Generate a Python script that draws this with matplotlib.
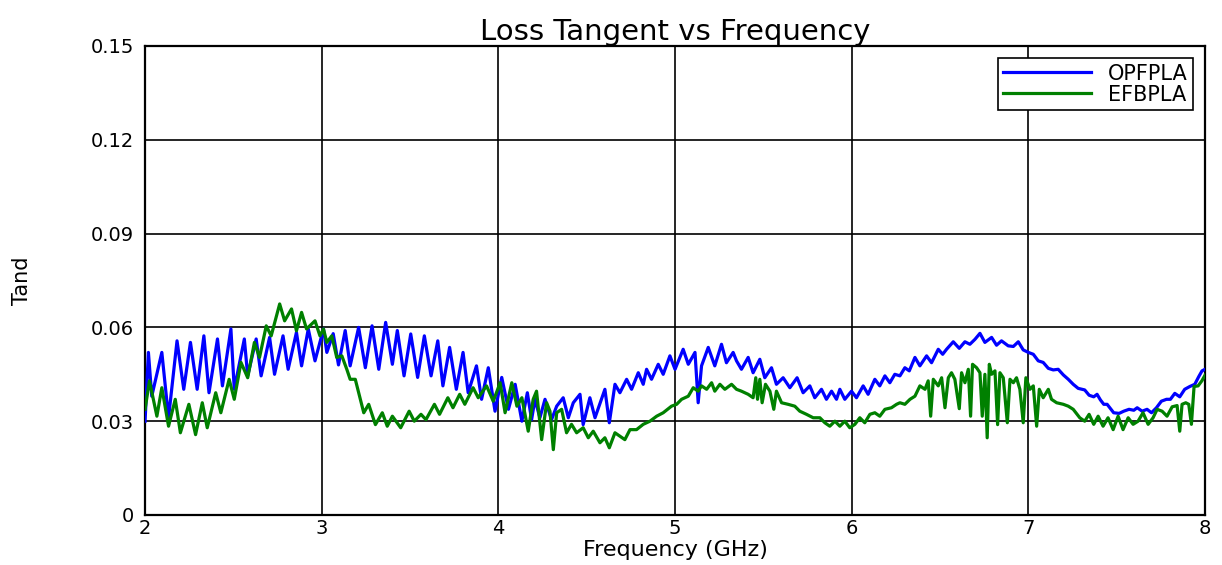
import matplotlib
matplotlib.use("Agg")
import matplotlib.pyplot as plt

# OPFPLA loss tangent (peaks and troughs)
opf_freq = [2.000, 2.019, 2.038, 2.095, 2.133, 2.181, 2.219, 2.257, 2.295, 2.333,
            2.362, 2.410, 2.438, 2.486, 2.505, 2.562, 2.581, 2.629, 2.657, 2.705,
            2.733, 2.781, 2.810, 2.857, 2.886, 2.924, 2.962, 3.010, 3.029, 3.065,
            3.095, 3.133, 3.161, 3.209, 3.247, 3.285, 3.323, 3.362, 3.400, 3.428,
            3.466, 3.504, 3.543, 3.581, 3.619, 3.657, 3.686, 3.724, 3.762, 3.800,
            3.829, 3.876, 3.905, 3.943, 3.981, 4.019, 4.057, 4.095, 4.133, 4.164,
            4.188, 4.207, 4.235, 4.264, 4.301, 4.330, 4.367, 4.396, 4.424, 4.462,
            4.480, 4.518, 4.547, 4.603, 4.628, 4.660, 4.688, 4.726, 4.754, 4.792,
            4.820, 4.839, 4.867, 4.905, 4.933, 4.971, 5.000, 5.046, 5.075, 5.113,
            5.131, 5.150, 5.188, 5.225, 5.263, 5.291, 5.329, 5.348, 5.376, 5.414,
            5.442, 5.480, 5.508, 5.546, 5.574, 5.612, 5.650, 5.691, 5.725, 5.763,
            5.791, 5.829, 5.857, 5.886, 5.914, 5.933, 5.961, 5.999, 6.027, 6.065,
            6.093, 6.131, 6.159, 6.188, 6.216, 6.244, 6.273, 6.301, 6.326, 6.358,
            6.386, 6.424, 6.452, 6.490, 6.515, 6.537, 6.575, 6.609, 6.641, 6.669,
            6.698, 6.726, 6.754, 6.792, 6.820, 6.848, 6.886, 6.915, 6.943, 6.971,
            7.000, 7.028, 7.056, 7.084, 7.113, 7.141, 7.169, 7.198, 7.226, 7.254,
            7.282, 7.319, 7.344, 7.370, 7.389, 7.408, 7.427, 7.446, 7.465, 7.483,
            7.514, 7.540, 7.570, 7.597, 7.616, 7.644, 7.672, 7.697, 7.725, 7.753,
            7.782, 7.804, 7.829, 7.857, 7.885, 7.914, 7.942, 7.965, 7.983, 8.000]
opf_tand = [0.0300, 0.0520, 0.0380, 0.0520, 0.0311, 0.0557, 0.0402, 0.0552, 0.0402, 0.0573,
            0.0391, 0.0563, 0.0413, 0.0595, 0.0402, 0.0563, 0.0445, 0.0563, 0.0445, 0.0568,
            0.0450, 0.0573, 0.0466, 0.0584, 0.0477, 0.0595, 0.0493, 0.0595, 0.0520, 0.0580,
            0.0480, 0.0590, 0.0477, 0.0600, 0.0471, 0.0605, 0.0466, 0.0616, 0.0482, 0.0590,
            0.0445, 0.0579, 0.0440, 0.0573, 0.0445, 0.0557, 0.0413, 0.0536, 0.0402, 0.0520,
            0.0391, 0.0477, 0.0370, 0.0471, 0.0332, 0.0440, 0.0338, 0.0418, 0.0300, 0.0391,
            0.0305, 0.0370, 0.0311, 0.0370, 0.0305, 0.0348, 0.0375, 0.0311, 0.0359, 0.0386,
            0.0289, 0.0375, 0.0311, 0.0402, 0.0295, 0.0418, 0.0391, 0.0434, 0.0402, 0.0455,
            0.0418, 0.0466, 0.0434, 0.0482, 0.0450, 0.0509, 0.0466, 0.0530, 0.0482, 0.0520,
            0.0359, 0.0477, 0.0536, 0.0477, 0.0546, 0.0487, 0.0520, 0.0493, 0.0466, 0.0504,
            0.0455, 0.0498, 0.0439, 0.0471, 0.0418, 0.0439, 0.0407, 0.0439, 0.0391, 0.0413,
            0.0375, 0.0402, 0.0370, 0.0396, 0.0370, 0.0402, 0.0370, 0.0396, 0.0375, 0.0413,
            0.0386, 0.0434, 0.0413, 0.0445, 0.0423, 0.0450, 0.0445, 0.0471, 0.0461, 0.0504,
            0.0477, 0.0509, 0.0487, 0.0530, 0.0514, 0.0530, 0.0554, 0.0533, 0.0554, 0.0546,
            0.0562, 0.0581, 0.0552, 0.0568, 0.0543, 0.0557, 0.0541, 0.0539, 0.0554, 0.0528,
            0.0520, 0.0514, 0.0493, 0.0488, 0.0469, 0.0464, 0.0466, 0.0448, 0.0434, 0.0418,
            0.0405, 0.0400, 0.0383, 0.0378, 0.0386, 0.0368, 0.0354, 0.0354, 0.0340, 0.0327,
            0.0325, 0.0332, 0.0338, 0.0335, 0.0343, 0.0332, 0.0338, 0.0327, 0.0343, 0.0364,
            0.0370, 0.0370, 0.0389, 0.0378, 0.0402, 0.0411, 0.0418, 0.0443, 0.0461, 0.0466]

# EFBPLA loss tangent
efb_freq = [2.000, 2.025, 2.067, 2.095, 2.133, 2.171, 2.200, 2.248, 2.286, 2.324,
            2.352, 2.400, 2.429, 2.476, 2.505, 2.543, 2.581, 2.619, 2.648, 2.686,
            2.714, 2.762, 2.790, 2.829, 2.857, 2.886, 2.914, 2.962, 2.990, 3.010,
            3.029, 3.057, 3.085, 3.114, 3.142, 3.161, 3.190, 3.219, 3.238, 3.266,
            3.304, 3.343, 3.371, 3.400, 3.447, 3.495, 3.524, 3.562, 3.590, 3.638,
            3.667, 3.714, 3.743, 3.781, 3.810, 3.857, 3.886, 3.933, 3.971, 4.010,
            4.038, 4.076, 4.105, 4.133, 4.153, 4.169, 4.197, 4.216, 4.245, 4.273,
            4.292, 4.311, 4.330, 4.358, 4.386, 4.414, 4.443, 4.480, 4.509, 4.537,
            4.575, 4.603, 4.628, 4.660, 4.688, 4.716, 4.745, 4.782, 4.820, 4.858,
            4.896, 4.933, 4.980, 5.009, 5.037, 5.075, 5.103, 5.131, 5.150, 5.179,
            5.207, 5.225, 5.254, 5.282, 5.320, 5.348, 5.376, 5.414, 5.442, 5.457,
            5.467, 5.480, 5.493, 5.512, 5.537, 5.559, 5.574, 5.603, 5.640, 5.678,
            5.706, 5.744, 5.782, 5.820, 5.848, 5.876, 5.905, 5.933, 5.961, 5.989,
            6.018, 6.046, 6.074, 6.103, 6.131, 6.159, 6.188, 6.225, 6.254, 6.273,
            6.301, 6.330, 6.358, 6.386, 6.415, 6.433, 6.447, 6.462, 6.490, 6.509,
            6.528, 6.547, 6.565, 6.584, 6.609, 6.622, 6.641, 6.660, 6.673, 6.684,
            6.707, 6.726, 6.739, 6.754, 6.767, 6.779, 6.792, 6.811, 6.826, 6.839,
            6.858, 6.881, 6.896, 6.915, 6.933, 6.952, 6.971, 6.986, 7.009, 7.028,
            7.047, 7.062, 7.084, 7.113, 7.131, 7.160, 7.198, 7.226, 7.254, 7.291,
            7.319, 7.344, 7.370, 7.395, 7.423, 7.451, 7.480, 7.508, 7.536, 7.565,
            7.593, 7.621, 7.649, 7.678, 7.706, 7.729, 7.757, 7.785, 7.814, 7.842,
            7.857, 7.870, 7.891, 7.908, 7.923, 7.938, 7.961, 7.982, 8.000]
efb_tand = [0.0338, 0.0429, 0.0316, 0.0407, 0.0284, 0.0370, 0.0263, 0.0354, 0.0257, 0.0359,
            0.0279, 0.0391, 0.0327, 0.0434, 0.0370, 0.0488, 0.0439, 0.0552, 0.0504, 0.0605,
            0.0573, 0.0675, 0.0621, 0.0659, 0.0589, 0.0648, 0.0595, 0.0621, 0.0573, 0.0595,
            0.0552, 0.0573, 0.0504, 0.0509, 0.0466, 0.0434, 0.0434, 0.0370, 0.0327, 0.0354,
            0.0289, 0.0327, 0.0284, 0.0316, 0.0279, 0.0332, 0.0300, 0.0322, 0.0305, 0.0354,
            0.0322, 0.0375, 0.0343, 0.0386, 0.0354, 0.0407, 0.0375, 0.0413, 0.0364, 0.0423,
            0.0327, 0.0423, 0.0348, 0.0375, 0.0316, 0.0268, 0.0370, 0.0396, 0.0241, 0.0359,
            0.0332, 0.0209, 0.0327, 0.0338, 0.0263, 0.0290, 0.0263, 0.0279, 0.0247, 0.0268,
            0.0231, 0.0247, 0.0215, 0.0263, 0.0252, 0.0241, 0.0273, 0.0273, 0.0290, 0.0300,
            0.0316, 0.0327, 0.0348, 0.0354, 0.0370, 0.0380, 0.0407, 0.0396, 0.0413, 0.0402,
            0.0423, 0.0396, 0.0418, 0.0402, 0.0418, 0.0402, 0.0396, 0.0386, 0.0375, 0.0439,
            0.0370, 0.0434, 0.0359, 0.0418, 0.0396, 0.0338, 0.0396, 0.0359, 0.0354, 0.0348,
            0.0332, 0.0322, 0.0311, 0.0311, 0.0295, 0.0284, 0.0300, 0.0284, 0.0300, 0.0279,
            0.0290, 0.0311, 0.0295, 0.0322, 0.0327, 0.0316, 0.0338, 0.0343, 0.0354, 0.0359,
            0.0354, 0.0370, 0.0380, 0.0413, 0.0402, 0.0429, 0.0316, 0.0434, 0.0413, 0.0439,
            0.0343, 0.0439, 0.0455, 0.0434, 0.0340, 0.0455, 0.0423, 0.0466, 0.0316, 0.0482,
            0.0471, 0.0455, 0.0316, 0.0450, 0.0247, 0.0482, 0.0450, 0.0461, 0.0289, 0.0455,
            0.0439, 0.0295, 0.0434, 0.0423, 0.0439, 0.0402, 0.0295, 0.0439, 0.0402, 0.0413,
            0.0284, 0.0402, 0.0375, 0.0402, 0.0370, 0.0359, 0.0354, 0.0348, 0.0338, 0.0311,
            0.0300, 0.0322, 0.0290, 0.0316, 0.0284, 0.0311, 0.0273, 0.0316, 0.0273, 0.0311,
            0.0290, 0.0300, 0.0327, 0.0290, 0.0311, 0.0338, 0.0332, 0.0316, 0.0346, 0.0350,
            0.0268, 0.0354, 0.0359, 0.0354, 0.0290, 0.0411, 0.0413, 0.0429, 0.0447]

x_ticks = [2, 3, 4, 5, 6, 7, 8]
y_ticks = [0, 0.03, 0.06, 0.09, 0.12, 0.15]
y_tick_labels = ['0', '0.03', '0.06', '0.09', '0.12', '0.15']


def main():
    plt.rcParams['font.family'] = ['DejaVu Sans']
    fig = plt.figure(figsize=(12.22, 5.65), dpi=100)
    ax = fig.add_axes([0.1187, 0.0885, 0.8674, 0.8301])

    ax.plot(opf_freq, opf_tand, color='#0000ff', linewidth=2.3, label='OPFPLA', zorder=3)
    ax.plot(efb_freq, efb_tand, color='#008000', linewidth=2.3, label='EFBPLA', zorder=3)

    ax.set_xlim(2, 8)
    ax.set_ylim(0, 0.15)
    ax.set_xticks(x_ticks)
    ax.set_yticks(y_ticks)
    ax.set_yticklabels(y_tick_labels)
    ax.tick_params(direction='in', labelsize=14, length=0, pad=8)
    ax.tick_params(axis='x', pad=3)

    # solid black grid like the matlab export
    ax.grid(True, color='black', linestyle='-', linewidth=1.2)
    ax.set_axisbelow(True)
    for s in ax.spines.values():
        s.set_color('black')
        s.set_linewidth(1.6)

    ax.set_title('Loss Tangent vs Frequency', fontsize=21, pad=4)
    ax.set_xlabel('Frequency (GHz)', fontsize=16, labelpad=1)
    ax.set_ylabel('Tand', fontsize=15, labelpad=42)

    leg = ax.legend(loc='upper right', fontsize=15, fancybox=False, framealpha=1,
                    edgecolor='black', handlelength=4.2, borderaxespad=0.6,
                    handletextpad=0.8, labelspacing=0.05, borderpad=0.25)
    leg.get_frame().set_linewidth(1.2)

    fig.savefig('out.png', dpi=100)


main()
